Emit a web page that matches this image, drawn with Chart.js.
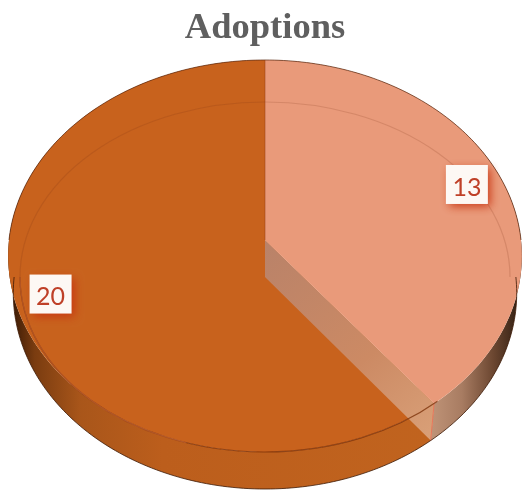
<!DOCTYPE html>
<html>
<head>
<meta charset="utf-8">
<title>Adoptions</title>
<script src="https://cdn.jsdelivr.net/npm/chart.js@4"></script>
<style>
  html, body { margin: 0; padding: 0; background: #fff; }
  canvas { display: block; }
</style>
</head>
<body>
<canvas id="pie3d" width="522" height="491"></canvas>
<script>
// ---------- DATA ----------
const chartTitle = "Adoptions";
const categories = ["Group A", "Group B"];
const adoptions = [13, 20];
const sliceColors = ["#e99a7a", "#c8621d"];

// ---------- 3D LOOK ----------
// perspective tilt of the disc, fitted on the reference
const view = { cx: 265, apexY: 240, ax: 256, ay: 194.7, k: 0.0816, depth: 37, shrink: 0.02 };

function project(angle, frac, drop) {
    const X = Math.cos(angle) * frac;
    const Y = -Math.sin(angle) * frac;
    const w = 1 + view.k * Y;
    const x = view.ax * X / w;
    const y = view.apexY - view.ay * Y / w;
    return { x: view.cx + x * (1 - view.shrink * drop / view.depth), y: y + drop };
}

function traceRim(ctx, from, to, drop, first) {
    const steps = 160;
    for (let i = 0; i <= steps; i++) {
        const p = project(from + (to - from) * i / steps, 1, drop);
        if (i === 0 && first) ctx.moveTo(p.x, p.y);
        else ctx.lineTo(p.x, p.y);
    }
}

function hGradient(ctx, x0, x1, stops) {
    const g = ctx.createLinearGradient(x0, 0, x1, 0);
    stops.forEach(s => g.addColorStop(s[0], s[1]));
    return g;
}

function drawSide(ctx, arc, fill) {
    ctx.beginPath();
    traceRim(ctx, arc.startAngle, arc.endAngle, 0, true);
    traceRim(ctx, arc.endAngle, arc.startAngle, view.depth, false);
    ctx.closePath();
    ctx.fillStyle = fill;
    ctx.fill();
}

function drawFace(ctx, arc) {
    const apex = project(0, 0, 0);
    ctx.beginPath();
    ctx.moveTo(apex.x, apex.y);
    traceRim(ctx, arc.startAngle, arc.endAngle, 0, false);
    ctx.closePath();
    ctx.fillStyle = arc.options.backgroundColor;
    ctx.fill();
}

function drawCutWall(ctx, arc) {
    const a = project(0, 0, 0);
    const b = project(arc.endAngle, 1, 0);
    const c = project(arc.endAngle, 1, view.depth);
    const d = project(0, 0, view.depth);
    const g = ctx.createLinearGradient(a.x, a.y, c.x, c.y);
    g.addColorStop(0, "#b98269");
    g.addColorStop(0.6, "#cc8a64");
    g.addColorStop(1, "#d9a078");
    ctx.beginPath();
    ctx.moveTo(a.x, a.y);
    ctx.lineTo(b.x, b.y);
    ctx.lineTo(c.x, c.y);
    ctx.lineTo(d.x, d.y);
    ctx.closePath();
    ctx.fillStyle = g;
    ctx.fill();
    ctx.beginPath();
    ctx.moveTo(b.x, b.y);
    ctx.lineTo(c.x, c.y);
    ctx.strokeStyle = "#e8775a";
    ctx.lineWidth = 1;
    ctx.stroke();
}

function drawValueBox(ctx, arc, text) {
    const mid = (arc.startAngle + arc.endAngle) / 2;
    const p = project(mid, 0.86, 0);
    const x = p.x - 1.5, y = p.y - 2;
    ctx.save();
    ctx.shadowColor = "rgba(200,50,15,0.9)";
    ctx.shadowBlur = 9;
    ctx.shadowOffsetX = 3;
    ctx.shadowOffsetY = 3;
    ctx.fillStyle = "#fdf8f4";
    ctx.fillRect(x - 21, y - 19.5, 42, 39);
    ctx.restore();
    ctx.fillStyle = "#bf4028";
    ctx.font = "25px Lato";
    ctx.textAlign = "center";
    ctx.textBaseline = "middle";
    ctx.fillText(text, x, y + 3);
}

const pie3dPlugin = {
    id: "pie3d",
    beforeDatasetsDraw(chart) {
        const ctx = chart.ctx;
        const arcs = chart.getDatasetMeta(0).data;
        const light = arcs[0], dark = arcs[1];
        const left = view.cx - view.ax, right = view.cx + view.ax;

        ctx.save();
        // outer walls
        drawSide(ctx, dark, hGradient(ctx, left, right, [
            [0, "#331604"], [0.05, "#7a3c10"], [0.14, "#a9561a"], [0.3, "#bc5e1c"], [1, "#c2651f"]
        ]));
        drawSide(ctx, light, hGradient(ctx, 430, right, [
            [0, "#c09478"], [0.35, "#a87c62"], [0.7, "#6b4630"], [1, "#2e1c10"]
        ]));

        // top faces
        drawFace(ctx, dark);
        drawCutWall(ctx, light);
        drawFace(ctx, light);

        // thin ring on the disc
        ctx.beginPath();
        ctx.ellipse(265, 277, 245, 175, 0, Math.PI, 2 * Math.PI);
        ctx.strokeStyle = "rgba(120,50,20,0.18)";
        ctx.lineWidth = 1.2;
        ctx.stroke();
        ctx.beginPath();
        ctx.ellipse(265, 277, 245, 175, 0, 0.79, Math.PI);
        ctx.strokeStyle = "rgba(120,45,5,0.75)";
        ctx.stroke();
        ctx.beginPath();
        ctx.ellipse(265, 277, 245, 175, 0, 1.9, Math.PI);
        ctx.strokeStyle = "rgba(200,100,50,0.6)";
        ctx.stroke();

        // rim edge, back half only
        ctx.lineWidth = 1;
        ctx.strokeStyle = "rgba(90,40,15,0.7)";
        ctx.beginPath();
        traceRim(ctx, -Math.PI, 0, 0, true);
        ctx.stroke();
        ctx.strokeStyle = "rgba(60,25,5,0.8)";
        ctx.beginPath();
        traceRim(ctx, 0, Math.PI, view.depth, true);
        ctx.stroke();

        // edge between slices on the back half
        const apex = project(0, 0, 0), top = project(-Math.PI / 2, 1, 0);
        ctx.strokeStyle = "rgba(150,60,20,0.5)";
        ctx.beginPath();
        ctx.moveTo(apex.x, apex.y);
        ctx.lineTo(top.x, top.y);
        ctx.stroke();

        arcs.forEach((arc, i) => drawValueBox(ctx, arc, String(adoptions[i])));
        ctx.restore();
        return false;
    }
};

// ---------- CHART ----------
new Chart(document.getElementById("pie3d"), {
    type: "pie",
    data: {
        labels: categories,
        datasets: [{ label: chartTitle, data: adoptions, backgroundColor: sliceColors, borderWidth: 0 }]
    },
    options: {
        responsive: false,
        animation: false,
        layout: { padding: { left: 8 } },
        plugins: {
            legend: { display: false },
            tooltip: { enabled: false },
            title: {
                display: true,
                text: chartTitle,
                color: "#5f5f5f",
                font: { family: "'Liberation Serif'", size: 36.5, weight: "bold" },
                padding: { top: 7, bottom: 0 }
            }
        }
    },
    plugins: [pie3dPlugin]
});
</script>
</body>
</html>
